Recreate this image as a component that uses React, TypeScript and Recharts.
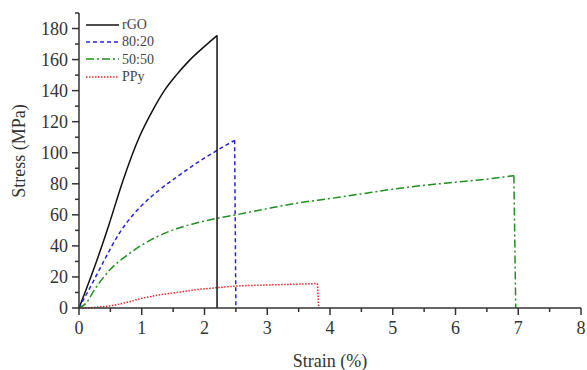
import React from 'react';
import { LineChart, Line, XAxis, YAxis } from 'recharts';

const rGO = [
  { x: 0, y: 0 }, { x: 0.27, y: 29 }, { x: 0.48, y: 54 }, { x: 0.7, y: 82 },
  { x: 0.96, y: 110 }, { x: 1.17, y: 127 }, { x: 1.36, y: 140 }, { x: 1.55, y: 150 },
  { x: 1.76, y: 159.5 }, { x: 2.0, y: 168.5 }, { x: 2.2, y: 175.5 }, { x: 2.2, y: 0 },
];
const s8020 = [
  { x: 0, y: 0 }, { x: 0.2, y: 15 }, { x: 0.38, y: 29 }, { x: 0.64, y: 48 },
  { x: 0.82, y: 58 }, { x: 1.0, y: 66 }, { x: 1.28, y: 76 }, { x: 1.65, y: 87 },
  { x: 1.9, y: 94 }, { x: 2.18, y: 101 }, { x: 2.48, y: 108 }, { x: 2.5, y: 0 },
];
const s5050 = [
  { x: 0, y: 0 }, { x: 0.11, y: 3 }, { x: 0.25, y: 12 }, { x: 0.48, y: 24 },
  { x: 0.8, y: 35 }, { x: 1.0, y: 40.5 }, { x: 1.25, y: 46 }, { x: 1.55, y: 51 },
  { x: 1.8, y: 54 }, { x: 2.18, y: 57.6 }, { x: 2.5, y: 60 }, { x: 3.0, y: 64 },
  { x: 3.5, y: 67.7 }, { x: 4.0, y: 70.5 }, { x: 4.5, y: 73.5 }, { x: 5.0, y: 76.5 },
  { x: 5.5, y: 79 }, { x: 6.0, y: 81 }, { x: 6.5, y: 83 }, { x: 6.93, y: 85.3 }, { x: 6.96, y: 0 },
];
const ppy = [
  { x: 0, y: 0 }, { x: 0.25, y: 0.4 }, { x: 0.48, y: 1.3 }, { x: 0.75, y: 3.5 },
  { x: 1.0, y: 6.2 }, { x: 1.25, y: 8.2 }, { x: 1.55, y: 9.9 }, { x: 1.85, y: 11.7 },
  { x: 2.18, y: 13 }, { x: 2.5, y: 14.1 }, { x: 3.0, y: 14.8 }, { x: 3.5, y: 15.4 },
  { x: 3.8, y: 15.8 }, { x: 3.82, y: 0 },
];

const xTicks = [0, 0.5, 1, 1.5, 2, 2.5, 3, 3.5, 4, 4.5, 5, 5.5, 6, 6.5, 7, 7.5, 8];
const yTicks = [0, 10, 20, 30, 40, 50, 60, 70, 80, 90, 100, 110, 120, 130, 140, 150, 160, 170, 180, 190];

const series = [
  { name: 'rGO', data: rGO, color: '#111111', dash: undefined as string | undefined },
  { name: '80:20', data: s8020, color: '#2424e0', dash: '4 3' },
  { name: '50:50', data: s5050, color: '#1f8f1f', dash: '8 3 2 3' },
  { name: 'PPy', data: ppy, color: '#e02828', dash: '1.5 1.5' },
];

const FONT = '"Liberation Serif", "DejaVu Serif", serif';
const AX = '#333333';

const YTick = (props: any) => {
  const { x, y, payload } = props;
  const v = payload.value;
  const major = v % 20 === 0 && v <= 180;
  return (
    <g>
      <line x1={x} x2={x - (major ? 7 : 4)} y1={y} y2={y} stroke={AX} strokeWidth={1.5} />
      {major && (
        <text x={x - 11} y={y} textAnchor="end" dominantBaseline="central" fontSize={18} fill={AX} fontFamily={FONT}>
          {v}
        </text>
      )}
    </g>
  );
};

const XTick = (props: any) => {
  const { x, y, payload } = props;
  const v = payload.value;
  const major = Number.isInteger(v);
  return (
    <g>
      <line x1={x} x2={x} y1={y} y2={y + (major ? 7 : 4)} stroke={AX} strokeWidth={1.5} />
      {major && (
        <text x={x} y={y + 26} textAnchor="middle" fontSize={18} fill={AX} fontFamily={FONT}>
          {v}
        </text>
      )}
    </g>
  );
};

const LegendBox = () => (
  <div
    style={{
      position: 'absolute', left: 85, top: 16, fontFamily: FONT, fontSize: 14,
      color: '#444', lineHeight: '17.3px',
    }}
  >
    {series.map((s) => (
      <div key={s.name} style={{ display: 'flex', alignItems: 'center', height: 17.3 }}>
        <svg width={36} height={10} style={{ marginRight: 1 }}>
          <line x1={1} x2={34} y1={5} y2={5} stroke={s.color} strokeWidth={1.5} strokeDasharray={s.dash} />
        </svg>
        <span>{s.name}</span>
      </div>
    ))}
  </div>
);

export default function App() {
  return (
    <div style={{ position: 'fixed', left: 0, top: 0, width: 587, height: 370, background: '#fff' }}>
      <LineChart width={587} height={370} margin={{ top: 13, right: 6, left: 0, bottom: 0 }}>
        <XAxis
          type="number"
          dataKey="x"
          domain={[0, 8]}
          ticks={xTicks}
          interval={0}
          allowDuplicatedCategory={false}
          tickLine={false}
          tickSize={0}
          tickMargin={0}
          tick={<XTick />}
          height={62}
          stroke={AX}
          strokeWidth={1.5}
          label={{
            content: (p: any) => {
              const vb = p.viewBox;
              return (
                <text x={vb.x + vb.width / 2} y={vb.y + 59} textAnchor="middle" fontSize={18} fill={AX} fontFamily={FONT}>
                  Strain (%)
                </text>
              );
            },
          }}
        />
        <YAxis
          type="number"
          domain={[0, 190]}
          ticks={yTicks}
          interval={0}
          tickLine={false}
          tickSize={0}
          tickMargin={0}
          tick={<YTick />}
          width={79}
          stroke={AX}
          strokeWidth={1.5}
          label={{
            content: (p: any) => {
              const vb = p.viewBox;
              const cx = vb.x + 19;
              const cy = 151;
              return (
                <text x={cx} y={cy} transform={`rotate(-90 ${cx} ${cy})`} textAnchor="middle" dominantBaseline="central" fontSize={18} fill={AX} fontFamily={FONT}>
                  Stress (MPa)
                </text>
              );
            },
          }}
        />
        {series.map((s) => (
          <Line
            key={s.name}
            name={s.name}
            data={s.data.slice(0, -1)}
            dataKey="y"
            type="monotone"
            stroke={s.color}
            strokeWidth={1.5}
            strokeDasharray={s.dash}
            dot={false}
            activeDot={false}
            isAnimationActive={false}
          />
        ))}
        {series.map((s) => (
          <Line
            key={s.name + '-drop'}
            name={s.name + ' drop'}
            data={s.data.slice(-2)}
            dataKey="y"
            type="linear"
            stroke={s.color}
            strokeWidth={1.5}
            strokeDasharray={s.dash}
            dot={false}
            activeDot={false}
            isAnimationActive={false}
          />
        ))}
      </LineChart>
      <LegendBox />
    </div>
  );
}
